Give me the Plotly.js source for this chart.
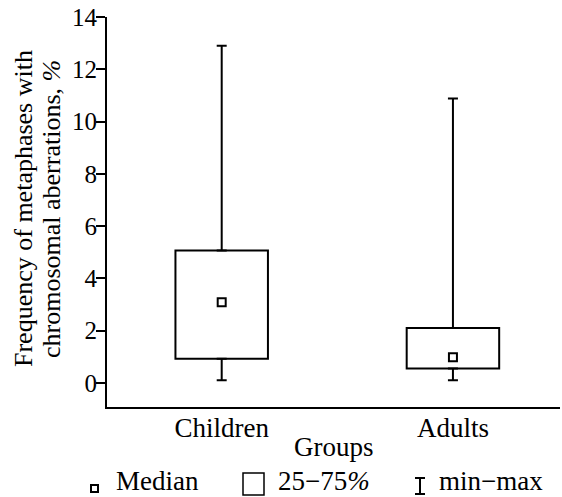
<!DOCTYPE html>
<html>
<head>
<meta charset="utf-8">
<script src="https://cdn.plot.ly/plotly-3.0.1.min.js"></script>
<style>html,body{margin:0;padding:0;background:#fff;}#chart{width:562px;height:497px;}</style>
</head>
<body>
<div id="chart"></div>
<script>
// Data
const groups = ['Children', 'Adults'];
const minVals = [0.1, 0.1];
const q1Vals = [0.93, 0.55];
const medianVals = [3.09, 0.98];
const q3Vals = [5.07, 2.1];
const maxVals = [12.9, 10.88];
const yTickVals = [0, 2, 4, 6, 8, 10, 12, 14];
const legendLabels = ['Median', '25\u221275<i>%</i>', 'min\u2212max'];

const FONT = 'Liberation Serif';

// Pixel helpers for paper-positioned legend/labels (plot area: x 107..560, y 17..407)
const L = 107, R = 2, T = 17, B = 90, W = 562, H = 497;
const pw = W - L - R, ph = H - T - B;
const px = v => (v - L) / pw;
const py = v => (H - B - v) / ph;

const boxTrace = {
  type: 'bar', x: groups, base: q1Vals,
  y: q3Vals.map((q, i) => q - q1Vals[i]),
  width: 0.4,
  marker: { color: '#fff', line: { color: '#000', width: 2 } },
  showlegend: false, hoverinfo: 'skip'
};
const upperWhisker = {
  type: 'scatter', mode: 'markers', x: groups, y: q3Vals,
  marker: { color: 'rgba(0,0,0,0)', size: 1 },
  error_y: { type: 'data', symmetric: false,
    array: maxVals.map((m, i) => m - q3Vals[i]), arrayminus: q3Vals.map(() => 0),
    width: 5, thickness: 2, color: '#000' },
  showlegend: false, hoverinfo: 'skip'
};
const lowerWhisker = {
  type: 'scatter', mode: 'markers', x: groups, y: q1Vals,
  marker: { color: 'rgba(0,0,0,0)', size: 1 },
  error_y: { type: 'data', symmetric: false,
    array: q1Vals.map(() => 0), arrayminus: q1Vals.map((q, i) => q - minVals[i]),
    width: 5, thickness: 2, color: '#000' },
  showlegend: false, hoverinfo: 'skip'
};
const medianTrace = {
  type: 'scatter', mode: 'markers', x: groups, y: medianVals,
  marker: { symbol: 'square-open', size: 8, color: '#000', line: { width: 2 } },
  showlegend: false, hoverinfo: 'skip'
};

const legY = 481;
const shapes = [
  // Median icon
  { type: 'rect', xref: 'paper', yref: 'paper', x0: px(91), x1: px(98), y0: py(492), y1: py(485),
    line: { color: '#000', width: 2 }, fillcolor: 'rgba(0,0,0,0)' },
  // 25-75% icon
  { type: 'rect', xref: 'paper', yref: 'paper', x0: px(243), x1: px(264), y0: py(495), y1: py(473),
    line: { color: '#000', width: 1.5 }, fillcolor: 'rgba(0,0,0,0)' },
  // min-max icon
  { type: 'line', xref: 'paper', yref: 'paper', x0: px(420), x1: px(420), y0: py(494), y1: py(478),
    line: { color: '#000', width: 2 } },
  { type: 'line', xref: 'paper', yref: 'paper', x0: px(415), x1: px(425), y0: py(478), y1: py(478),
    line: { color: '#000', width: 2 } },
  { type: 'line', xref: 'paper', yref: 'paper', x0: px(415), x1: px(425), y0: py(494), y1: py(494),
    line: { color: '#000', width: 2 } }
];

const txt = (text, x, y, opts) => Object.assign({
  text: text, xref: 'paper', yref: 'paper', x: x, y: y, showarrow: false,
  xanchor: 'center', yanchor: 'middle', font: { family: FONT, size: 27, color: '#000' }
}, opts || {});

const annotations = [
  txt('Frequency of metaphases with', px(23), py(209), { textangle: -90, font: { family: FONT, size: 26, color: '#000' } }),
  txt('chromosomal aberrations, <i>%</i>', px(51), py(209), { textangle: -90, font: { family: FONT, size: 26, color: '#000' } }),
  txt('Groups', 0.5, py(447)),
  txt(legendLabels[0], px(114), py(legY), { xanchor: 'left' }),
  txt(legendLabels[1], px(276), py(legY), { xanchor: 'left' }),
  txt(legendLabels[2], px(437), py(legY), { xanchor: 'left' })
];

const layout = {
  width: W, height: H,
  margin: { l: L, r: R, t: T, b: B, pad: 0 },
  paper_bgcolor: '#fff', plot_bgcolor: '#fff',
  font: { family: FONT, color: '#000' },
  showlegend: false, bargap: 0,
  xaxis: {
    type: 'category', range: [-0.496, 1.463],
    showline: true, linecolor: '#000', linewidth: 2,
    ticks: '', showgrid: false, zeroline: false,
    ticklabelstandoff: -4,
    tickfont: { family: FONT, size: 27, color: '#000' }, fixedrange: true
  },
  yaxis: {
    range: [-0.92, 14], tickvals: yTickVals,
    showline: true, linecolor: '#000', linewidth: 2,
    ticks: 'outside', ticklen: 9, tickwidth: 2, tickcolor: '#000',
    showgrid: false, zeroline: false,
    ticklabelstandoff: -6,
    tickfont: { family: FONT, size: 25, color: '#000' }, fixedrange: true
  },
  shapes: shapes, annotations: annotations
};

Plotly.newPlot('chart', [boxTrace, upperWhisker, lowerWhisker, medianTrace], layout,
  { staticPlot: true, displayModeBar: false });
</script>
</body>
</html>
